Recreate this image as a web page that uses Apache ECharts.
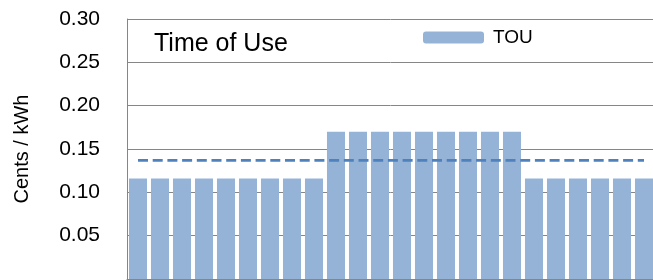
<!DOCTYPE html>
<html>
<head>
<meta charset="utf-8">
<script src="https://cdn.jsdelivr.net/npm/echarts@6/dist/echarts.min.js"></script>
<style>
html, body { margin: 0; padding: 0; background: #fff; }
#chart { width: 653px; height: 280px; }
</style>
</head>
<body>
<div id="chart"></div>
<script>
// hours of the day
var hours = ['1','2','3','4','5','6','7','8','9','10','11','12',
	'13','14','15','16','17','18','19','20','21','22','23','24'];
// TOU rate, cents / kWh
var touRate = [0.116, 0.116, 0.116, 0.116, 0.116, 0.116, 0.116, 0.116, 0.116,
	0.17, 0.17, 0.17, 0.17, 0.17, 0.17, 0.17, 0.17, 0.17,
	0.116, 0.116, 0.116, 0.116, 0.116, 0.116];
// flat average rate (dashed)
var avgRate = [0.137, 0.137, 0.137, 0.137, 0.137, 0.137, 0.137, 0.137, 0.137, 0.137, 0.137, 0.137,
	0.137, 0.137, 0.137, 0.137, 0.137, 0.137, 0.137, 0.137, 0.137, 0.137, 0.137, 0.137];

var font = 'Liberation Sans';
var c = echarts.init(document.getElementById('chart'));
var opt = {
	animation: false,
	textStyle: { fontFamily: font },
	title: {
		text: 'Time of Use',
		left: 149,
		top: 27,
		textStyle: { fontFamily: font, fontSize: 25, fontWeight: 'normal', color: '#000' }
	},
	legend: {
		data: ['TOU'],
		left: 418,
		top: 23,
		itemWidth: 61,
		itemHeight: 12,
		textStyle: { fontFamily: font, fontSize: 19, color: '#000', padding: [0, 0, 0, 4] }
	},
	grid: {
		left: 127,
		right: -2,
		top: 19,
		bottom: 1,
		containLabel: false,
		outerBoundsMode: 'none'
	},
	xAxis: {
		type: 'category',
		data: hours,
		axisLine: { show: true, lineStyle: { color: '#868686', width: 1 } },
		axisTick: { show: false },
		axisLabel: { show: false }
	},
	yAxis: {
		type: 'value',
		min: 0,
		max: 0.3,
		interval: 0.05,
		name: 'Cents / kWh',
		nameLocation: 'middle',
		nameGap: 95,
		nameRotate: 90,
		nameTextStyle: { fontFamily: font, fontSize: 20, color: '#000' },
		axisLine: { show: true, lineStyle: { color: '#868686', width: 1 } },
		axisTick: { show: false },
		axisLabel: {
			fontFamily: font,
			fontSize: 21,
			color: '#000',
			margin: 27,
			showMinLabel: false,
			formatter: function(v) { return v.toFixed(2); }
		},
		splitLine: { show: true, lineStyle: { color: '#868686', width: 1 } }
	},
	series: [
		{
			name: 'TOU',
			type: 'bar',
			data: touRate,
			barCategoryGap: '18%',
			itemStyle: { color: '#95B3D7' }
		},
		{
			name: 'avg',
			type: 'line',
			data: avgRate,
			symbol: 'none',
			lineStyle: { color: '#4F81BD', width: 2.75, type: [10, 4.7] }
		}
	]
};
c.setOption(opt);
</script>
</body>
</html>
